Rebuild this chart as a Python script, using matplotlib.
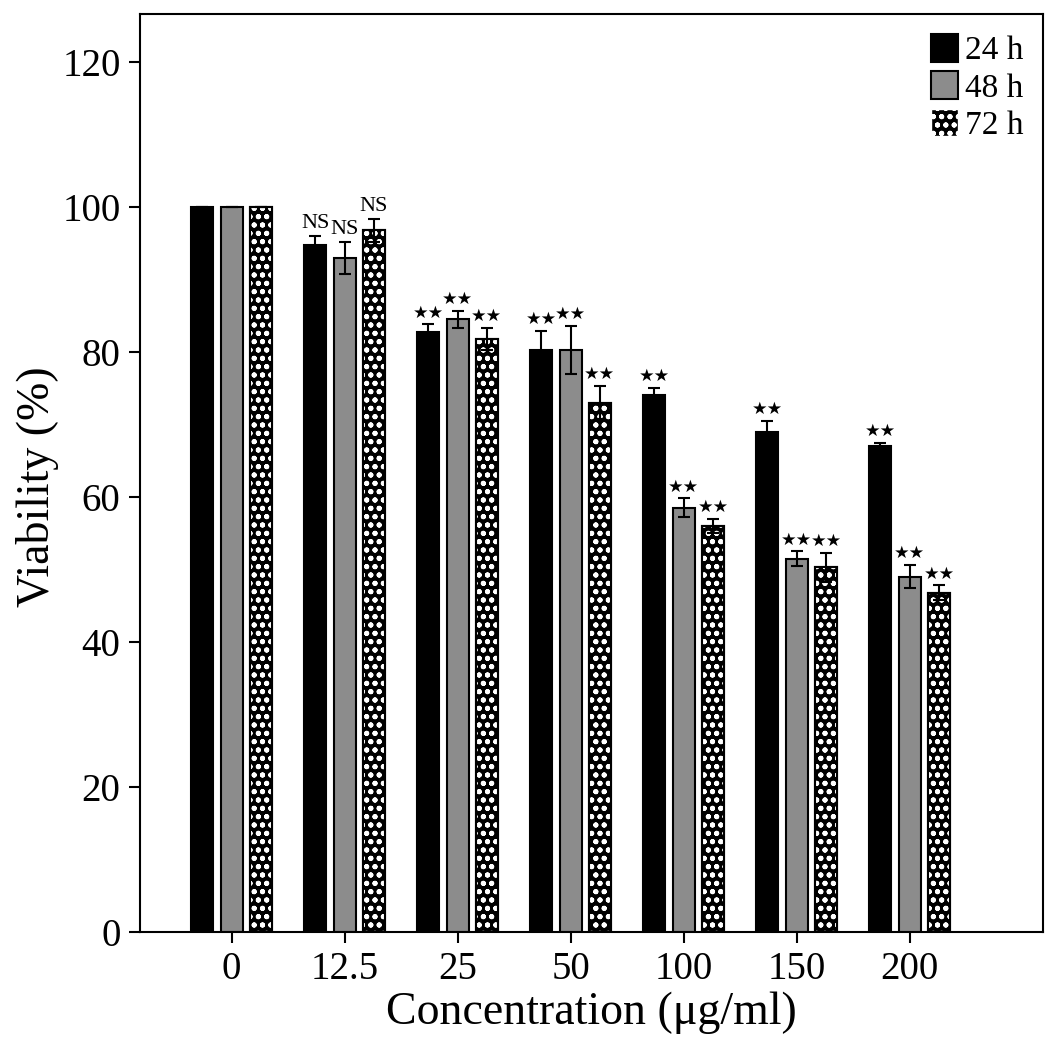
import matplotlib
matplotlib.use("Agg")
import matplotlib.pyplot as plt
import numpy as np

plt.rcParams['font.family'] = ['Liberation Serif', 'DejaVu Sans']
plt.rcParams['hatch.linewidth'] = 1.3

concentrations = ['0', '12.5', '25', '50', '100', '150', '200']
series_names = ['24 h', '48 h', '72 h']

v24 = [100, 94.8, 82.8, 80.3, 74.0, 69.0, 67.0]
v48 = [100, 93.0, 84.5, 80.3, 58.5, 51.5, 49.0]
v72 = [100, 96.8, 81.8, 73.0, 56.0, 50.3, 46.8]

e24 = [0, 1.2, 1.0, 2.6, 1.0, 1.5, 0.4]
e48 = [0, 2.2, 1.2, 3.3, 1.3, 1.0, 1.6]
e72 = [0, 1.6, 1.5, 2.3, 1.0, 2.0, 1.0]

sig24 = ['', 'NS', '**', '**', '**', '**', '**']
sig48 = ['', 'NS', '**', '**', '**', '**', '**']
sig72 = ['', 'NS', '**', '**', '**', '**', '**']

fig = plt.figure(figsize=(10.63, 10.56), dpi=100)
ax = fig.add_axes([0.1317, 0.1174, 0.8495, 0.8693])

x = np.arange(len(concentrations))
w = 0.195
off = 0.26

ek = dict(ecolor='black', elinewidth=1.5, capsize=4, capthick=1.5)

ax.bar(x - off, v24, w, color='black', edgecolor='black', linewidth=1.5,
       yerr=e24, error_kw=ek, label=series_names[0], zorder=2)
ax.bar(x, v48, w, color='#8c8c8c', edgecolor='black', linewidth=1.5,
       yerr=e48, error_kw=ek, label=series_names[1], zorder=2)
ax.bar(x + off, v72, w, color='black', edgecolor='black', linewidth=1.5, zorder=2)
ax.bar(x + off, v72, w, color='none', edgecolor='white', hatch='..oo', linewidth=0, zorder=3)
ax.bar(x + off, v72, w, color='none', edgecolor='black', linewidth=1.5,
       yerr=e72, error_kw=ek, zorder=4)

# legend proxy for hatched bars
ax.bar([0], [0], 0, color='black', edgecolor='white', hatch='..oo', label=series_names[2])

for vals, errs, sigs, dx in [(v24, e24, sig24, -off), (v48, e48, sig48, 0), (v72, e72, sig72, off)]:
    for i in range(len(vals)):
        if sigs[i] == '':
            continue
        yy = vals[i] + errs[i] + 0.4
        if sigs[i] == 'NS':
            ax.text(x[i] + dx, yy, 'NS', ha='center', va='bottom', fontsize=16,
                    family=['Liberation Serif'])
        else:
            ax.text(x[i] + dx, yy, '★★', ha='center', va='bottom', fontsize=12.5,
                    family=['DejaVu Sans'])

ax.set_xlim(-0.81, 7.18)
ax.set_ylim(0, 126.6)
ax.set_yticks([0, 20, 40, 60, 80, 100, 120])
ax.set_xticks(x)
ax.set_xticklabels(concentrations)
ax.tick_params(axis='both', direction='out', length=8, width=1.5, labelsize=28, pad=6)
for s in ax.spines.values():
    s.set_linewidth(1.5)

ax.set_xlabel('Concentration (μg/ml)', fontsize=33, labelpad=2)
ax.set_ylabel('Viability (%)', fontsize=33)
ax.yaxis.set_label_coords(-0.09, 0.485)

handles, labels = ax.get_legend_handles_labels()
order = [labels.index(n) for n in series_names]
ax.legend([handles[i] for i in order], [labels[i] for i in order],
          loc='upper right', frameon=False, fontsize=24, handlelength=0.8,
          handleheight=0.9, handletextpad=0.2, labelspacing=0.15,
          borderaxespad=0.2)

fig.savefig('out.png', dpi=100)
